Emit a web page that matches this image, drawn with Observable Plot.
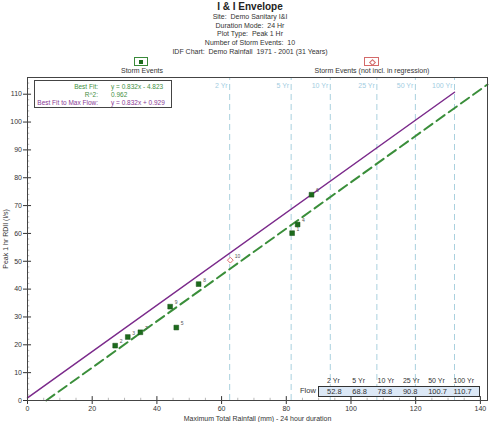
<!DOCTYPE html>
<html><head><meta charset="utf-8">
<script src="https://cdn.jsdelivr.net/npm/d3@7"></script>
<script src="https://cdn.jsdelivr.net/npm/@observablehq/plot@0.6"></script>
<style>
body{margin:0;background:#fff;font-family:"Liberation Sans",Arial,sans-serif;}
#wrap{position:relative;width:500px;height:422px;overflow:hidden;}
#head{position:relative;height:73px;}
.t{position:absolute;left:0;width:500px;text-align:center;font-size:7px;color:#333;line-height:8px;white-space:pre;}
.title{font-size:10px;font-weight:bold;color:#222;line-height:11px;}
.abs{position:absolute;white-space:pre;font-size:7px;line-height:8px;}
#plot{position:absolute;left:0;top:73px;}
#fitbox{position:absolute;left:34px;top:80px;width:136px;height:26px;border:1px solid #444;background:#fff;}
#flowbox{position:absolute;left:318px;top:386px;width:160px;height:9px;border:1px solid #333;background:#dce8f6;}
</style></head>
<body>
<div id="wrap">
  <div id="head"></div>
  <div id="plot"></div>
</div>
<script>
// ---- data ----
const titleText = "I & I Envelope";
const subtitleLines = ["Site:  Demo Sanitary I&I", "Duration Mode:  24 Hr", "Plot Type:  Peak 1 Hr", "Number of Storm Events:  10", "IDF Chart:  Demo Rainfall  1971 - 2001 (31 Years)"];
const eventIds   = [1, 2, 3, 4, 5, 6, 7, 8, 9];
const eventRain  = [81.8, 27.1, 31.0, 83.5, 46.0, 87.8, 34.9, 52.9, 44.1];
const eventFlow  = [60.1, 19.7, 22.8, 63.2, 26.2, 73.9, 24.5, 41.8, 33.7];
const excludedIds  = [10];
const excludedRain = [62.7];
const excludedFlow = [50.4];
const returnPeriods  = ["2 Yr", "5 Yr", "10 Yr", "25 Yr", "50 Yr", "100 Yr"];
const periodRainfall = [62.5, 81.5, 93.6, 108.0, 119.9, 132.0];
const periodFlow     = [52.8, 68.8, 78.8, 90.8, 100.7, 110.7];
const bestFitX = [5.8, 142.2], bestFitY = [0, 113.5];
const maxFlowX = [0, 132.0],   maxFlowY = [0.93, 110.7];
const fitLabels = ["Best Fit:", "R^2:", "Best Fit to Max Flow:"];
const fitValues = ["y = 0.832x - 4.823", "0.962", "y = 0.832x + 0.929"];
const xTicks = [0, 20, 40, 60, 80, 100, 120, 140];
const yTicks = [0, 10, 20, 30, 40, 50, 60, 70, 80, 90, 100, 110];

// ---- header ----
const head = document.getElementById("head");
function addDiv(parent, cls, text, style) {
  const d = document.createElement("div");
  d.className = cls; d.textContent = text;
  Object.assign(d.style, style || {});
  parent.appendChild(d); return d;
}
addDiv(head, "t title", titleText, {top: "1px"});
subtitleLines.forEach((s, i) => addDiv(head, "t", s, {top: (13 + i * 8.7) + "px"}));
// legend icons
const wrap = document.getElementById("wrap");
const ic1 = addDiv(wrap, "abs", "", {left: "134px", top: "57px", width: "14px", height: "9px", border: "1px solid #3a8a3a", boxSizing: "border-box"});
addDiv(ic1, "abs", "", {left: "4px", top: "1.5px", width: "4px", height: "4px", background: "#1c6b1c"});
addDiv(wrap, "t", "Storm Events", {left: "-108px", top: "67px"});
const ic2 = addDiv(wrap, "abs", "", {left: "364px", top: "57px", width: "15px", height: "9px", border: "1px solid #d46a6a", boxSizing: "border-box"});
addDiv(ic2, "abs", "", {left: "5px", top: "1.5px", width: "3px", height: "3px", border: "1px solid #d46a6a", transform: "rotate(45deg)"});
addDiv(wrap, "t", "Storm Events (not incl. in regression)", {left: "122px", top: "67px"});

// ---- plot ----
const events = eventIds.map((id, i) => ({id, rain: eventRain[i], flow: eventFlow[i]}));
const excluded = excludedIds.map((id, i) => ({id, rain: excludedRain[i], flow: excludedFlow[i]}));
const periods = returnPeriods.map((label, i) => ({label, rain: periodRainfall[i], flow: periodFlow[i]}));
const bestFit = bestFitX.map((x, i) => ({x, y: bestFitY[i]}));
const maxFit = maxFlowX.map((x, i) => ({x, y: maxFlowY[i]}));
const yMinor = d3.range(2, 116, 2).filter(v => v % 10 !== 0);
const xMinor = d3.range(5, 142, 5).filter(v => v % 20 !== 0);

const chart = Plot.plot({
  width: 500, height: 349,
  marginTop: 4, marginLeft: 27, marginRight: 13, marginBottom: 22,
  style: {fontFamily: "Liberation Sans, Arial, sans-serif", fontSize: "7px", color: "#333", background: "transparent"},
  x: {domain: [0, 142.2]},
  y: {domain: [0, 116]},
  marks: [
    Plot.ruleX(periods, {x: "rain", y1: 0, y2: 116, stroke: "#a9d0de", strokeWidth: 1, strokeDasharray: "6,4"}),
    Plot.text(periods, {x: "rain", text: "label", frameAnchor: "top", dy: 6, dx: -2, textAnchor: "end", fill: "#a3cddf", fontSize: 7}),
    Plot.ruleY(yMinor, {x1: 0, x2: 0.7, stroke: "#999", strokeWidth: 0.7}),
    Plot.ruleX(xMinor, {y1: 0, y2: 0.8, stroke: "#999", strokeWidth: 0.7}),
    Plot.ruleY(yTicks, {x1: 0, x2: 1.25, stroke: "#333"}),
    Plot.ruleX(xTicks, {y1: 0, y2: 1.4, stroke: "#333"}),
    Plot.line(maxFit, {x: "x", y: "y", stroke: "#7b2a8b", strokeWidth: 1.5}),
    Plot.line(bestFit, {x: "x", y: "y", stroke: "#3a8e3a", strokeWidth: 2, strokeDasharray: "10,5"}),
    Plot.dot(events, {x: "rain", y: "flow", symbol: "square", r: 2.7, fill: "#1c6b1c", stroke: "#144f14", strokeWidth: 0.5}),
    Plot.text(events, {x: "rain", y: "flow", text: "id", dx: 4.5, dy: -4, fontSize: 5, fill: "#555", textAnchor: "start"}),
    Plot.dot(excluded, {x: "rain", y: "flow", symbol: "diamond2", r: 2.6, fill: "white", stroke: "#e07070", strokeWidth: 1}),
    Plot.text(excluded, {x: "rain", y: "flow", text: "id", dx: 4.5, dy: -4, fontSize: 5, fill: "#555", textAnchor: "start"}),
    Plot.axisY({ticks: yTicks, tickSize: 4, tickPadding: 1.5, label: "Peak 1 hr RDII (l/s)", labelAnchor: "center", labelArrow: "none", labelOffset: 24, stroke: "#333"}),
    Plot.axisX({ticks: xTicks, tickSize: 4, tickPadding: 2, label: "Maximum Total Rainfall (mm) - 24 hour duration", labelAnchor: "center", labelArrow: "none", labelOffset: 20, stroke: "#333"}),
    Plot.frame({stroke: "#444", strokeWidth: 1})
  ]
});
document.getElementById("plot").appendChild(chart);

// ---- fit legend box ----
const fb = addDiv(wrap, "abs", "", {});
fb.id = "fitbox";
const fitColors = ["#3f8f3f", "#3f8f3f", "#8a3a96"];
fitLabels.forEach((l, i) => {
  addDiv(fb, "abs", l, {right: (137 - 64) + "px", top: (2 + i * 7.8) + "px", color: fitColors[i], fontSize: "6.5px"});
  addDiv(fb, "abs", fitValues[i], {left: "76px", top: (2 + i * 7.8) + "px", color: fitColors[i], fontSize: "6.5px"});
});

// ---- flow table ----
returnPeriods.forEach((p, i) => addDiv(wrap, "abs", p, {left: (327 + i * 25.3) + "px", top: "377px", color: "#333"}));
const flb = addDiv(wrap, "abs", "", {}); flb.id = "flowbox";
addDiv(wrap, "abs", "Flow", {left: "300px", top: "386.5px", color: "#333", fontSize: "7.5px"});
periodFlow.forEach((v, i) => addDiv(flb, "abs", v.toFixed(1), {left: (8 + i * 25.3) + "px", top: "0.5px", color: "#333", fontSize: "7.5px"}));
</script>
</body></html>
